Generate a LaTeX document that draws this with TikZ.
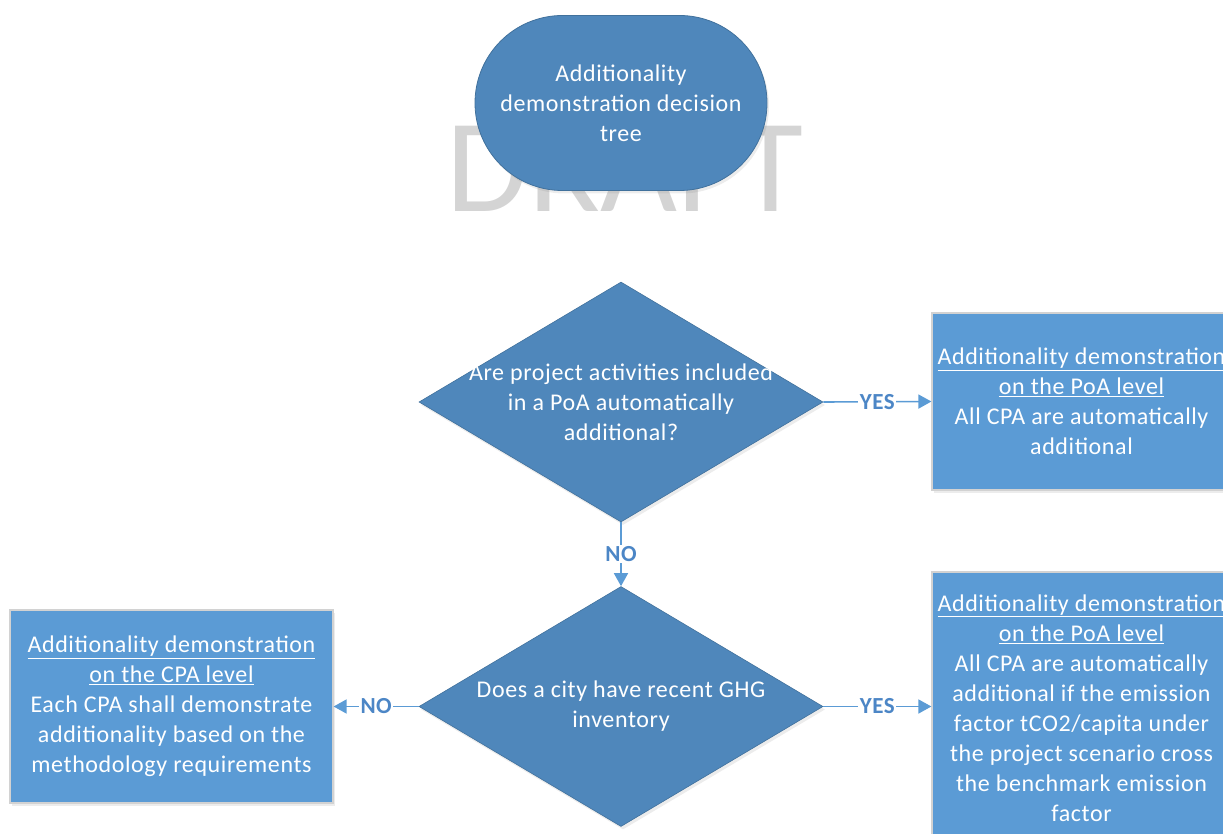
\documentclass[tikz,border=0pt]{standalone}
\usepackage{fontspec}
\setmainfont{Carlito}[LetterSpace=2.5]
\newfontfamily\draftfont{Carlito}
\usetikzlibrary{shapes.geometric,shapes.misc,arrows.meta,shadows}
\definecolor{shapeblue}{HTML}{4F87BB}
\definecolor{edgeblue}{HTML}{41719C}
\definecolor{boxblue}{HTML}{5B9BD5}
\definecolor{linkblue}{HTML}{5B9BD5}
\definecolor{labelblue}{HTML}{4C86C6}
\definecolor{draftgray}{HTML}{D4D4D4}
\tikzset{
  bodytext/.style={text=white, align=center, font=\fontsize{24}{30}\selectfont},
  startbox/.style={rounded rectangle, fill=shapeblue, draw=edgeblue, line width=0.8pt,
    minimum width=292pt, minimum height=175pt, inner sep=0pt, bodytext,
    drop shadow={opacity=0.15, shadow xshift=2pt, shadow yshift=-3pt}},
  decision/.style={diamond, fill=shapeblue, draw=edgeblue, line width=0.6pt,
    minimum width=404pt, minimum height=240pt, inner sep=0pt,
    drop shadow={opacity=0.15, shadow xshift=2pt, shadow yshift=-3pt}},
  outcome/.style={rectangle, fill=boxblue, draw=gray!35, line width=1.2pt,
    inner sep=0pt, bodytext,
    drop shadow={opacity=0.15, shadow xshift=2pt, shadow yshift=-3pt}},
  link/.style={draw=linkblue, line width=1.6pt, -{Triangle[length=13pt,width=14pt]}},
  yesno/.style={fill=white, text=labelblue, inner sep=1.5pt,
    font=\fontsize{23}{23}\selectfont\bfseries}
}
\begin{document}
\begin{tikzpicture}[x=1pt, y=-1pt]
\useasboundingbox (0,0) rectangle (1223,834);
%%%%%%%%%%%%%%%%%%%%%%%%%%%%%%% watermark
\node[text=draftgray, inner sep=0pt, font=\draftfont\fontsize{133}{133}\selectfont](wmDraft) at (625,169){DRAFT};
%%%%%%%%%%%%%%%%%%%%%%%%%%%%%%% decision tree
\node[startbox](nStart) at (621,103){Additionality\\demonstration decision\\tree};
\node[decision, label={[bodytext]center:{Are project activities included\\in a PoA automatically\\additional?}}](qAuto) at (621,402){};
\node[outcome, minimum width=299pt, minimum height=177pt](bPoA) at (1081.5,401.5){\underline{Additionality demonstration}\\\underline{on the PoA level}\\All CPA are automatically\\additional};
\draw[link] (qAuto.east) -- node[yesno]{YES} (bPoA.west);
\node[decision, label={[bodytext]center:{Does a city have recent GHG\\inventory}}](qGhg) at (621,706.5){};
\draw[link] (qAuto) -- node[yesno]{NO} (qGhg);
\node[outcome, minimum width=299pt, minimum height=272pt](bPoACity) at (1081.5,708){\underline{Additionality demonstration}\\\underline{on the PoA level}\\All CPA are automatically\\additional if the emission\\factor tCO2/capita under\\the project scenario cross\\the benchmark emission\\factor};
\draw[link] (qGhg.east) -- node[yesno]{YES} (qGhg.east -| bPoACity.west);
\node[outcome, minimum width=323pt, minimum height=193pt](bCpa) at (171.5,706.5){\underline{Additionality demonstration}\\\underline{on the CPA level}\\Each CPA shall demonstrate\\additionality based on the\\methodology requirements};
\draw[link] (qGhg.west) -- node[yesno]{NO} (bCpa.east);
\end{tikzpicture}
\end{document}
